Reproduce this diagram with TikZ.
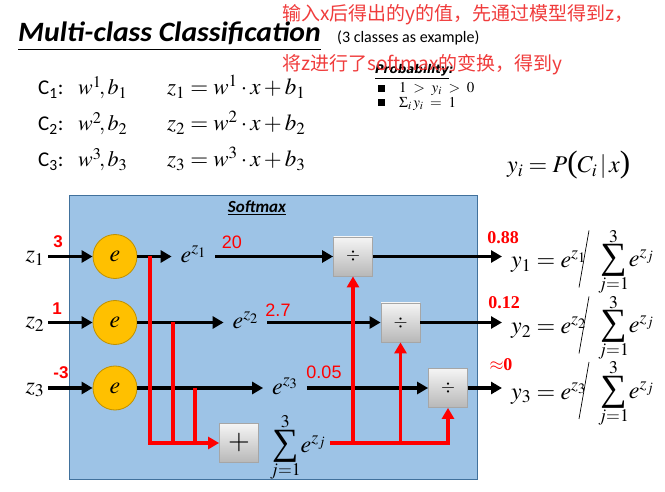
\documentclass[tikz,border=0pt]{standalone}
\usepackage{amsmath}
\usepackage{mathptmx}
\usepackage{fontspec}
\usetikzlibrary{arrows.meta}
\newfontfamily\carlito{Carlito}
\newfontfamily\arialf{Liberation Sans}
\newfontfamily\tnr{Liberation Serif}
\newfontfamily\dejavu{DejaVu Sans}
\newfontfamily\cjk{Noto Sans CJK SC}
\newcommand\fsz[1]{\fontsize{#1}{#1}\selectfont}
\newcommand\bigsum{\mathop{\vcenter{\hbox{\tnr\fsz{37}\raisebox{0pt}[\dimexpr\height-2.5pt\relax][\dimexpr\depth-2.5pt\relax]{∑}}}}\limits}
\newcommand\bpl{\mathopen{\hbox{\tnr\fsz{31}(}}}
\newcommand\bpr{\mathclose{\hbox{\tnr\fsz{31})}}}
\definecolor{panelfill}{RGB}{157,195,230}
\definecolor{panelline}{RGB}{65,113,156}
\definecolor{circfill}{RGB}{255,192,0}
\definecolor{circline}{RGB}{191,144,0}
\definecolor{notered}{RGB}{240,60,60}
\definecolor{numred}{RGB}{255,0,0}
\begin{document}
\begin{tikzpicture}[x=1pt,y=-1pt,
  panel/.style={draw=panelline, fill=panelfill, line width=1pt, inner sep=0pt},
  circ/.style={circle, draw=circline, fill=circfill, line width=0.8pt, minimum size=44pt, inner sep=0pt, font=\fsz{24}},
  gbox/.style={draw=black!35, top color=black!4, bottom color=black!28, minimum size=39pt, inner sep=0pt, line width=0.8pt},
  lbl/.style={inner sep=0pt, outer sep=9pt, font=\fsz{24}},
  blk/.style={line width=3.5pt, -{Triangle[length=11pt,width=12pt]}},
  rdl/.style={draw=numred, line width=3.5pt},
  rda/.style={rdl, -{Triangle[length=11pt,width=12pt]}},
  rnum/.style={text=numred, inner sep=0pt, font=\arialf\fsz{18}},
  rnumb/.style={text=numred, inner sep=0pt, font=\arialf\bfseries\fsz{17}},
  rnums/.style={text=numred, inner sep=0pt, font=\tnr\bfseries\fsz{18}},
  note/.style={text=notered, inner sep=0pt, anchor=west, font=\cjk\fsz{19}},
  formula/.style={inner sep=0pt, anchor=base west, font=\fsz{24}},
  slash/.style={line width=0.7pt}
]
\fill[white] (0,0) rectangle (665,492);
\useasboundingbox (0,0) rectangle (665,492);
\def\RA{256.5}\def\RB{322.5}\def\RC{388}
% ---------- top part ----------
\node[anchor=base west, inner sep=0pt] (title) at (18,42) {\carlito\bfseries\itshape\fsz{28}\scalebox{1.06}[1]{\underline{Multi-class Classification}}};
\node[anchor=base west, inner sep=0pt] (sub) at (337,43) {\carlito\fsz{16}(3 classes as example)};
\node[anchor=base west, inner sep=0pt] (prob) at (375,74) {\dejavu\bfseries\itshape\fsz{12}\underline{Probability}:};
\node[fill=black, minimum size=7pt, inner sep=0pt] (bul1) at (381,89) {};
\node[fill=black, minimum size=7pt, inner sep=0pt] (bul2) at (381,103) {};
\node[anchor=west, inner sep=0pt, font=\fsz{15}] (pa) at (399,89) {$1 \;>\; y_i \;>\; 0$};
\node[anchor=west, inner sep=0pt, font=\fsz{15}] (pb) at (399,104) {$\Sigma_i\, y_i \;=\; 1$};
\node[note] (n1) at (282,15) {输入x后得出的y的值，先通过模型得到z，};
\node[note] (n2) at (282,65) {将z进行了softmax的变换，得到y};
\node[anchor=base west, inner sep=0pt, font=\carlito\fsz{21}] (ca) at (38,95) {C\textsubscript{1}:};
\node[anchor=base west, inner sep=0pt, font=\carlito\fsz{21}] (cb) at (38,131) {C\textsubscript{2}:};
\node[anchor=base west, inner sep=0pt, font=\carlito\fsz{21}] (cc) at (38,167) {C\textsubscript{3}:};
\node[anchor=base west, inner sep=0pt, font=\fsz{22}] (wa) at (78,95) {$w^1\!, b_1$};
\node[anchor=base west, inner sep=0pt, font=\fsz{22}] (wb) at (78,131) {$w^2\!, b_2$};
\node[anchor=base west, inner sep=0pt, font=\fsz{22}] (wc) at (78,167) {$w^3\!, b_3$};
\node[anchor=base west, inner sep=0pt, font=\fsz{23}] (za) at (167,95) {$z_1 = w^1 \cdot x + b_1$};
\node[anchor=base west, inner sep=0pt, font=\fsz{23}] (zb) at (167,131) {$z_2 = w^2 \cdot x + b_2$};
\node[anchor=base west, inner sep=0pt, font=\fsz{23}] (zc) at (167,167) {$z_3 = w^3 \cdot x + b_3$};
\node[anchor=base west, inner sep=0pt, font=\fsz{24}] (py) at (507,173) {$y_i = P\bpl C_i \,|\, x\bpr$};
% ---------- panel ----------
\node[panel, minimum width=408pt, minimum height=284pt, anchor=north west] (panel) at (69,195) {};
\node[inner sep=0pt] (smx) at (257,208) {\carlito\bfseries\itshape\fsz{17}\underline{Softmax}};
% inputs
\node[lbl, outer sep=4pt] (zi1) at (35,\RA+2) {$z_1$};
\node[lbl, outer sep=4pt] (zi2) at (35,\RB+2) {$z_2$};
\node[lbl, outer sep=4pt] (zi3) at (35,\RC+2) {$z_3$};
\node[circ] (c1) at (115,\RA) {$e$};
\node[circ] (c2) at (115,\RB) {$e$};
\node[circ] (c3) at (115,\RC) {$e$};
\node[lbl, anchor=base] (e1) at (193.5,\RA+6) {$e^{z_1}$};
\node[lbl, anchor=base] (e2) at (245.5,\RB+6) {$e^{z_2}$};
\node[lbl, anchor=base] (e3) at (285,\RC+6) {$e^{z_3}$};
\node[gbox, font=\fsz{18}] (d1) at (353,\RA) {$\div$};
\node[gbox, font=\fsz{18}] (d2) at (400.5,\RB) {$\div$};
\node[gbox, font=\fsz{18}] (d3) at (448,\RC) {$\div$};
\node[gbox, font=\fsz{28}] (p) at (239,443) {$+$};
\node[formula, outer sep=4pt] (s) at (266,452) {$\bigsum_{j=1}^{3}\! e^{z_j}$};
\coordinate (t1) at (502,\RA);
\coordinate (t2) at (502,\RB);
\coordinate (t3) at (502,\RC);
\coordinate (r1) at (150,\RA);
\coordinate (r2) at (173,\RB);
\coordinate (r3) at (195,\RC);
% black arrows
\draw[blk] (zi1.east |- c1) -- (c1.west);
\draw[blk] (zi2.east |- c2) -- (c2.west);
\draw[blk] (zi3.east |- c3) -- (c3.west);
\draw[blk] (c1.east) -- (c1.east -| e1.west);
\draw[blk] (c2.east) -- (c2.east -| e2.west);
\draw[blk] (c3.east) -- (c3.east -| e3.west);
\draw[blk] (e1.east |- d1) -- (d1.west);
\draw[blk] (e2.east |- d2) -- (d2.west);
\draw[blk] (e3.east |- d3) -- (d3.west);
\draw[blk] (d1.east) -- (t1);
\draw[blk] (d2.east) -- (t2);
\draw[blk] (d3.east) -- (t3);
% red lines
\draw[rda] (r1) |- (p.west);
\draw[rdl] (r2) -- (r2 |- p.west);
\draw[rdl] (r3) -- (r3 |- p.west);
\draw[rda] (s.east |- p) -| (d3.south);
\draw[rda] (d1.south |- p) -- (d1.south);
\draw[rda] (d2.south |- p) -- (d2.south);
% numbers
\node[rnumb] (v1) at (58,242) {3};
\node[rnumb] (v2) at (57,309) {1};
\node[rnumb] (v3) at (61,373) {-3};
\node[rnum] (x1) at (232,242) {20};
\node[rnum] (x2) at (278,310) {2.7};
\node[rnum] (x3) at (324,372) {0.05};
\node[rnums] (o1) at (503,238) {0.88};
\node[rnums] (o2) at (504,303) {0.12};
\node[rnums] (o3) at (501,365) {$\approx$0};
% outputs
\node[formula] (ya) at (511,\RA+11) {$y_1 = e^{z_1}$};
\node[formula] (yb) at (511,\RB+11) {$y_2 = e^{z_2}$};
\node[formula] (yc) at (511,\RC+11) {$y_3 = e^{z_3}$};
\draw[slash] (589,\RA-26) -- (579,\RA+31);
\draw[slash] (589,\RB-26) -- (579,\RB+31);
\draw[slash] (589,\RC-26) -- (579,\RC+31);
\node[formula] (sa) at (598,\RA+10) {$\bigsum_{j=1}^{3}\! e^{z_j}$};
\node[formula] (sb) at (598,\RB+10) {$\bigsum_{j=1}^{3}\! e^{z_j}$};
\node[formula] (sc) at (598,\RC+10) {$\bigsum_{j=1}^{3}\! e^{z_j}$};
\end{tikzpicture}
\end{document}
